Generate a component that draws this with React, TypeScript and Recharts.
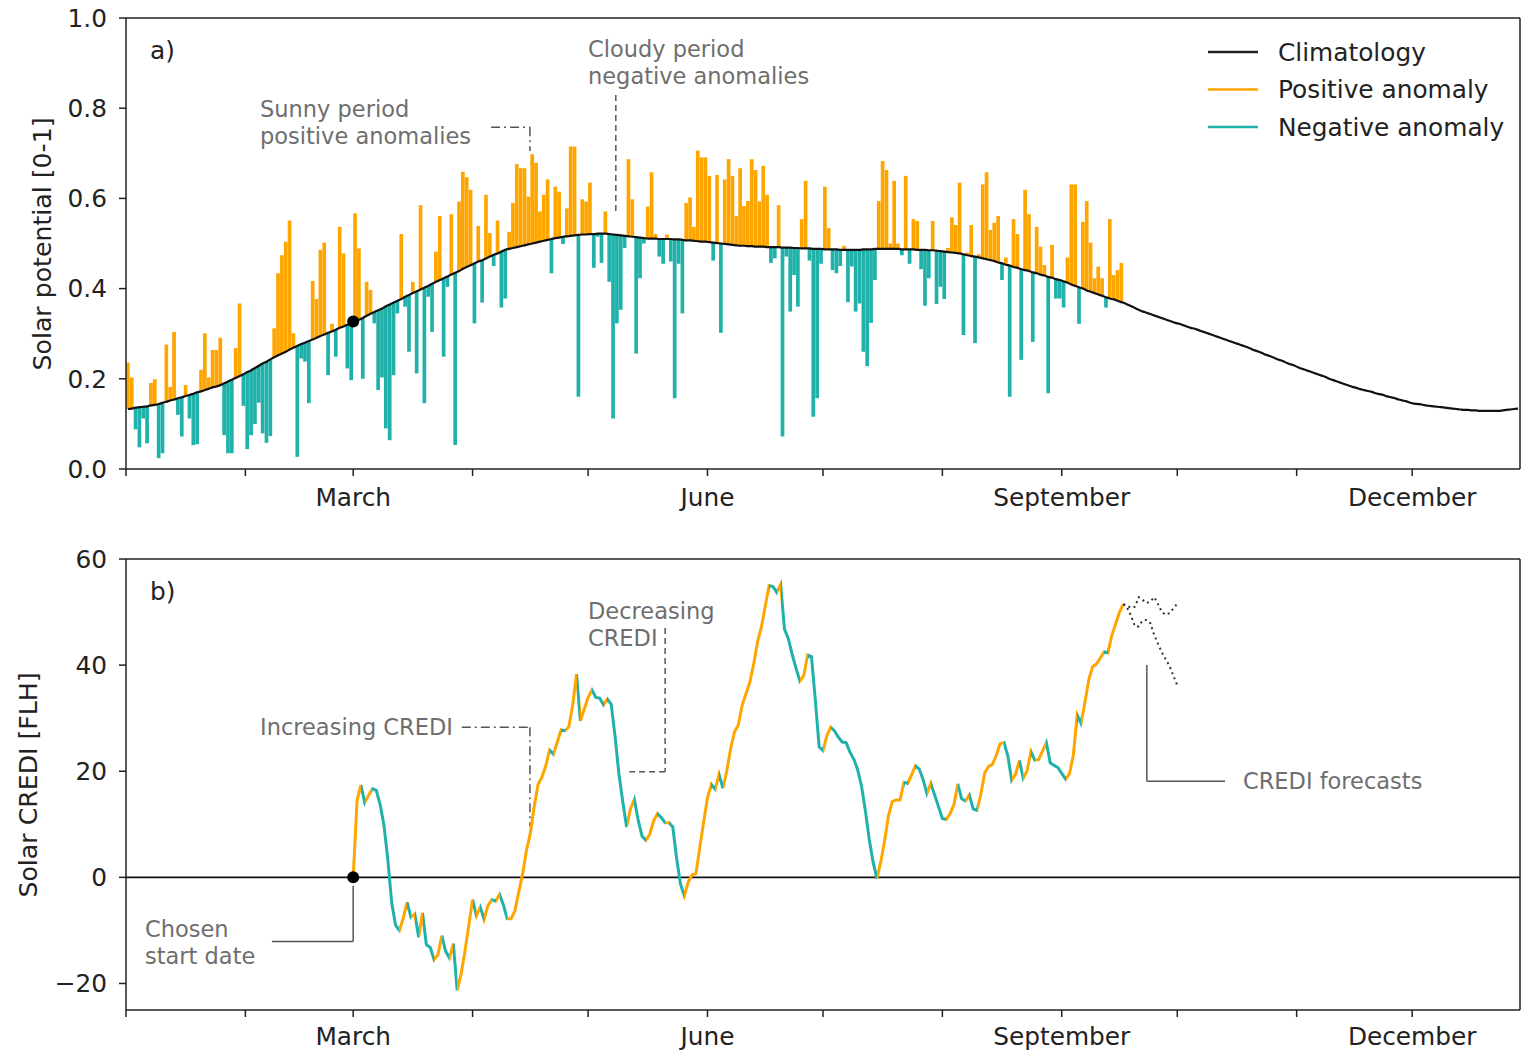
import React from "react";
import {
  ComposedChart,
  Line,
  Bar,
  Cell,
  XAxis,
  YAxis,
  ReferenceLine,
  ReferenceDot,
} from "recharts";

const ORANGE = "#FFA500";
const TEAL = "#20B2AA";
const FONT = "'DejaVu Sans', sans-serif";
const ANNOT = "#6e6e6e";
const CONNECT = "#555";

// first day of each month (day of year, 0 = 1 January)
const monthStarts = [0, 31, 59, 90, 120, 151, 181, 212, 243, 273, 304, 334];
const monthLabels: Record<number, string> = {
  59: "March",
  151: "June",
  243: "September",
  334: "December",
};

// daily climatology of the solar potential, 1 Jan .. 28 Dec
const climatology = [
  0.133, 0.134, 0.136, 0.137, 0.138, 0.139, 0.141, 0.142, 0.144, 0.147,
  0.149, 0.152, 0.154, 0.157, 0.159, 0.162, 0.164, 0.167, 0.170, 0.172,
  0.175, 0.178, 0.181, 0.183, 0.186, 0.190, 0.194, 0.198, 0.202, 0.206,
  0.210, 0.215, 0.219, 0.224, 0.229, 0.234, 0.238, 0.243, 0.248, 0.252,
  0.256, 0.260, 0.265, 0.269, 0.273, 0.277, 0.280, 0.284, 0.287, 0.291,
  0.295, 0.298, 0.302, 0.305, 0.309, 0.313, 0.316, 0.320, 0.323, 0.327,
  0.331, 0.335, 0.340, 0.344, 0.348, 0.352, 0.356, 0.361, 0.365, 0.369,
  0.373, 0.377, 0.382, 0.386, 0.390, 0.394, 0.398, 0.402, 0.406, 0.411,
  0.415, 0.419, 0.423, 0.427, 0.431, 0.435, 0.439, 0.444, 0.448, 0.452,
  0.456, 0.460, 0.463, 0.467, 0.471, 0.475, 0.478, 0.482, 0.486, 0.488,
  0.490, 0.492, 0.494, 0.496, 0.498, 0.500, 0.502, 0.504, 0.506, 0.508,
  0.510, 0.512, 0.513, 0.515, 0.516, 0.517, 0.518, 0.519, 0.520, 0.520,
  0.521, 0.521, 0.522, 0.522, 0.522, 0.521, 0.520, 0.519, 0.518, 0.517,
  0.516, 0.515, 0.514, 0.513, 0.512, 0.511, 0.511, 0.511, 0.510, 0.510,
  0.510, 0.510, 0.509, 0.509, 0.508, 0.507, 0.507, 0.506, 0.505, 0.504,
  0.504, 0.503, 0.502, 0.501, 0.500, 0.499, 0.498, 0.497, 0.496, 0.495,
  0.495, 0.494, 0.494, 0.493, 0.493, 0.493, 0.492, 0.492, 0.492, 0.492,
  0.491, 0.491, 0.491, 0.490, 0.490, 0.489, 0.489, 0.489, 0.488, 0.488,
  0.488, 0.487, 0.487, 0.487, 0.487, 0.486, 0.486, 0.486, 0.486, 0.486,
  0.486, 0.487, 0.487, 0.487, 0.488, 0.488, 0.488, 0.488, 0.488, 0.488,
  0.488, 0.487, 0.487, 0.487, 0.487, 0.486, 0.486, 0.486, 0.485, 0.485,
  0.484, 0.483, 0.482, 0.481, 0.480, 0.479, 0.478, 0.476, 0.474, 0.472,
  0.471, 0.469, 0.467, 0.465, 0.463, 0.461, 0.458, 0.456, 0.453, 0.451,
  0.448, 0.446, 0.443, 0.441, 0.439, 0.436, 0.434, 0.431, 0.429, 0.426,
  0.424, 0.421, 0.419, 0.416, 0.413, 0.409, 0.406, 0.403, 0.400, 0.396,
  0.393, 0.390, 0.387, 0.384, 0.381, 0.378, 0.376, 0.373, 0.370, 0.367,
  0.363, 0.359, 0.355, 0.351, 0.348, 0.345, 0.342, 0.339, 0.336, 0.333,
  0.330, 0.327, 0.324, 0.322, 0.319, 0.316, 0.313, 0.311, 0.308, 0.305,
  0.302, 0.299, 0.296, 0.293, 0.290, 0.287, 0.284, 0.281, 0.278, 0.275,
  0.272, 0.269, 0.265, 0.262, 0.259, 0.255, 0.252, 0.249, 0.245, 0.242,
  0.239, 0.235, 0.232, 0.229, 0.225, 0.222, 0.219, 0.216, 0.213, 0.210,
  0.207, 0.204, 0.200, 0.197, 0.194, 0.191, 0.188, 0.185, 0.182, 0.180,
  0.177, 0.175, 0.173, 0.171, 0.168, 0.166, 0.164, 0.161, 0.159, 0.157,
  0.154, 0.152, 0.150, 0.147, 0.145, 0.144, 0.143, 0.141, 0.140, 0.139,
  0.138, 0.137, 0.136, 0.135, 0.134, 0.133, 0.132, 0.131, 0.131, 0.130,
  0.130, 0.129, 0.129, 0.129, 0.129, 0.129, 0.129, 0.130, 0.131, 0.132,
  0.133, 0.134,
];

// observed daily solar potential, 1 Jan .. mid September
const solarPotential = [
  0.236, 0.203, 0.088, 0.048, 0.112, 0.057, 0.191, 0.199, 0.024, 0.035,
  0.276, 0.182, 0.304, 0.120, 0.072, 0.186, 0.112, 0.053, 0.055, 0.220,
  0.301, 0.203, 0.264, 0.264, 0.291, 0.075, 0.035, 0.035, 0.268, 0.367,
  0.140, 0.044, 0.075, 0.100, 0.147, 0.079, 0.058, 0.073, 0.312, 0.434,
  0.474, 0.504, 0.551, 0.301, 0.027, 0.245, 0.238, 0.146, 0.417, 0.377,
  0.486, 0.502, 0.208, 0.322, 0.249, 0.537, 0.478, 0.223, 0.197, 0.567,
  0.489, 0.200, 0.415, 0.397, 0.323, 0.175, 0.203, 0.090, 0.064, 0.208,
  0.345, 0.521, 0.360, 0.260, 0.415, 0.212, 0.585, 0.146, 0.382, 0.304,
  0.482, 0.561, 0.249, 0.404, 0.565, 0.053, 0.593, 0.659, 0.647, 0.619,
  0.323, 0.539, 0.369, 0.608, 0.523, 0.450, 0.551, 0.358, 0.378, 0.526,
  0.590, 0.676, 0.667, 0.667, 0.604, 0.698, 0.679, 0.571, 0.608, 0.642,
  0.434, 0.626, 0.615, 0.499, 0.578, 0.715, 0.715, 0.160, 0.598, 0.593,
  0.635, 0.446, 0.515, 0.457, 0.571, 0.415, 0.112, 0.323, 0.353, 0.490,
  0.687, 0.598, 0.256, 0.423, 0.500, 0.582, 0.658, 0.521, 0.471, 0.455,
  0.520, 0.460, 0.157, 0.455, 0.345, 0.590, 0.602, 0.537, 0.706, 0.691,
  0.691, 0.650, 0.462, 0.652, 0.302, 0.642, 0.687, 0.650, 0.561, 0.667,
  0.583, 0.594, 0.687, 0.663, 0.593, 0.672, 0.608, 0.457, 0.467, 0.585,
  0.072, 0.471, 0.349, 0.430, 0.360, 0.554, 0.639, 0.462, 0.116, 0.157,
  0.455, 0.626, 0.534, 0.441, 0.434, 0.450, 0.495, 0.370, 0.449, 0.349,
  0.367, 0.260, 0.228, 0.324, 0.419, 0.594, 0.683, 0.663, 0.500, 0.639,
  0.500, 0.474, 0.650, 0.455, 0.554, 0.550, 0.443, 0.362, 0.423, 0.550,
  0.366, 0.404, 0.377, 0.490, 0.558, 0.541, 0.635, 0.297, 0.480, 0.541,
  0.279, 0.476, 0.631, 0.658, 0.530, 0.546, 0.561, 0.419, 0.469, 0.160,
  0.554, 0.521, 0.242, 0.619, 0.565, 0.282, 0.537, 0.493, 0.452, 0.168,
  0.497, 0.378, 0.378, 0.358, 0.469, 0.631, 0.631, 0.322, 0.548, 0.594,
  0.502, 0.423, 0.449, 0.423, 0.358, 0.554, 0.430, 0.441, 0.457,
];

// solar CREDI [FLH], daily from the chosen start date (1 March)
const crediStartDay = 59;
const crediValues = [
  0, 14.5, 17.4, 14.1, 15.5, 16.7, 16.4, 13.7, 9.8, 3.3,
  -4.8, -9.0, -10.0, -7.7, -4.7, -7.5, -6.9, -11.3, -6.7, -12.7,
  -13.2, -15.5, -14.6, -11.0, -13.9, -15.2, -12.5, -21.3, -18.3, -14.0,
  -9.1, -4.2, -7.2, -5.6, -7.9, -5.3, -4.2, -4.5, -3.2, -5.2,
  -7.8, -7.8, -6.3, -2.7, 0.6, 5.1, 8.3, 13.3, 17.5, 18.9,
  21.0, 24.0, 23.2, 25.5, 27.8, 27.6, 28.4, 32.5, 38.3, 29.5,
  31.7, 33.9, 35.3, 33.9, 33.8, 32.5, 33.6, 32.6, 26.6, 19.5,
  14.3, 9.5, 12.9, 14.7, 10.8, 7.8, 7.0, 8.1, 10.6, 12.0,
  11.3, 10.3, 10.3, 9.5, 3.5, -1.3, -3.5, -0.9, 0.5, 0.7,
  5.6, 10.4, 15.0, 17.5, 16.6, 19.4, 16.8, 20.0, 24.2, 27.4,
  28.7, 32.4, 34.6, 36.8, 40.2, 44.4, 47.2, 51.1, 55.0, 54.8,
  53.7, 55.2, 46.8, 45.0, 42.0, 39.4, 37.0, 38.0, 41.9, 41.6,
  33.5, 24.6, 23.9, 26.7, 28.3, 27.6, 26.4, 25.5, 25.4, 23.6,
  22.3, 20.3, 17.2, 12.6, 7.2, 2.9, -0.2, 2.9, 6.9, 11.6,
  14.3, 14.6, 14.6, 17.9, 17.7, 19.3, 21.0, 20.4, 18.4, 15.8,
  17.7, 15.5, 13.3, 11.1, 10.9, 12.0, 13.7, 17.6, 14.8, 14.4,
  15.5, 12.9, 12.6, 15.7, 19.7, 20.9, 21.3, 23.0, 25.2, 25.4,
  22.9, 18.3, 19.4, 22.0, 18.7, 20.1, 23.7, 22.1, 22.2, 23.8,
  25.4, 21.6, 21.1, 20.7, 19.6, 18.5, 19.5, 23.0, 30.6, 29.0,
  32.9, 37.2, 39.7, 40.2, 41.3, 42.5, 42.3, 45.6, 47.8, 50.0,
  51.5,
];

// CREDI forecasts, daily from the last observed day
const forecastStartDay = 259;
const forecastUpper = [51.5, 51.2, 50.8, 51.0, 52.8, 52.3, 51.7, 52.0, 52.8, 51.5, 50.0, 49.5, 49.8, 50.7, 51.6];
const forecastLower = [51.5, 50.8, 49.3, 47.3, 47.3, 48.4, 48.5, 47.9, 45.7, 44.0, 42.4, 41.1, 39.8, 38.0, 36.2];

const potentialTicks = [0, 0.2, 0.4, 0.6, 0.8, 1.0];
const crediTicks = [-20, 0, 20, 40, 60];

const legendItems = [
  { label: "Climatology", color: "#222" },
  { label: "Positive anomaly", color: ORANGE },
  { label: "Negative anomaly", color: TEAL },
];

// annotation connectors, in data units
const sunnyLink = [
  { x: 94.8, y: 0.758 },
  { x: 104.9, y: 0.758 },
  { x: 104.9, y: 0.705 },
];
const cloudyLink = [
  { x: 127.2, y: 0.829 },
  { x: 127.2, y: 0.57 },
];
const increasingLink = [
  { x: 87.2, y: 28.3 },
  { x: 104.9, y: 28.3 },
  { x: 104.9, y: 9.6 },
];
const decreasingLink = [
  { x: 140.0, y: 47.0 },
  { x: 140.0, y: 19.9 },
  { x: 130.7, y: 19.9 },
];
const forecastLink = [
  { x: 285.4, y: 18.1 },
  { x: 265.1, y: 18.1 },
  { x: 265.1, y: 40.0 },
];
const startLink = [
  { x: 37.9, y: -12.1 },
  { x: 59, y: -12.1 },
  { x: 59, y: -1.6 },
];

const topData = climatology.map((c, d) => {
  const v = solarPotential[d];
  return {
    day: d + 0.5,
    clim: c,
    range: v === undefined ? null : [Math.min(v, c), Math.max(v, c)],
    positive: v !== undefined && v >= c,
  };
});

const crediData = crediValues.map((v, i) => ({ day: crediStartDay + i, credi: v }));
const upperData = forecastUpper.map((v, i) => ({ day: forecastStartDay + i, fc: v }));
const lowerData = forecastLower.map((v, i) => ({ day: forecastStartDay + i, fc: v }));

const LABEL_SIZE = 24.8;
const tickStyle = { fill: "#222", fontSize: LABEL_SIZE, fontFamily: FONT };
const axisStroke = { stroke: "#222", strokeWidth: 1.5 };

function links(points: { x: number; y: number }[], dash: string | undefined, key: string) {
  const out = [];
  for (let i = 0; i < points.length - 1; i++) {
    out.push(
      <ReferenceLine
        key={`${key}-${i}`}
        segment={[points[i], points[i + 1]]}
        stroke={CONNECT}
        strokeWidth={1.5}
        strokeDasharray={dash}
      />
    );
  }
  return out;
}

function xAxisFor(height: number, margin: number) {
  return (
    <XAxis
      dataKey="day"
      type="number"
      domain={[0, 362]}
      ticks={monthStarts}
      interval={0}
      height={height}
      tickFormatter={(d: number) => monthLabels[d] ?? ""}
      tickSize={7}
      tickMargin={margin}
      axisLine={axisStroke}
      tickLine={axisStroke}
      tick={tickStyle}
      allowDataOverflow
    />
  );
}

function CrediGradient() {
  const n = crediValues.length;
  const stops = [];
  for (let i = 0; i < n - 1; i++) {
    const color = crediValues[i + 1] >= crediValues[i] ? ORANGE : TEAL;
    stops.push(<stop key={`a${i}`} offset={i / (n - 1)} stopColor={color} />);
    stops.push(<stop key={`b${i}`} offset={(i + 1) / (n - 1)} stopColor={color} />);
  }
  return (
    <linearGradient id="crediGrad" x1="0" y1="0" x2="1" y2="0">
      {stops}
    </linearGradient>
  );
}

function Overlay() {
  const t = { fontFamily: FONT, fontSize: 22.5, fill: ANNOT };
  return (
    <svg
      width={1521}
      height={1052}
      style={{ position: "absolute", left: 0, top: 0, pointerEvents: "none" }}
    >
      <text x={150} y={59} fontFamily={FONT} fontSize={LABEL_SIZE} fill="#222">a)</text>
      <text x={150} y={600} fontFamily={FONT} fontSize={LABEL_SIZE} fill="#222">b)</text>

      <text {...t} x={588} y={57}>Cloudy period</text>
      <text {...t} x={588} y={84}>negative anomalies</text>
      <text {...t} x={260} y={117}>Sunny period</text>
      <text {...t} x={260} y={144}>positive anomalies</text>

      <text {...t} x={588} y={619}>Decreasing</text>
      <text {...t} x={588} y={646}>CREDI</text>
      <text {...t} x={260} y={735}>Increasing CREDI</text>
      <text {...t} x={1243} y={789}>CREDI forecasts</text>
      <text {...t} x={145} y={937}>Chosen</text>
      <text {...t} x={145} y={964}>start date</text>

      <text
        x={51}
        y={244}
        transform="rotate(-90 51 244)"
        textAnchor="middle"
        fontFamily={FONT}
        fontSize={25.2}
        fill="#222"
      >
        Solar potential [0-1]
      </text>
      <text
        x={37}
        y={785}
        transform="rotate(-90 37 785)"
        textAnchor="middle"
        fontFamily={FONT}
        fontSize={25.2}
        fill="#222"
      >
        Solar CREDI [FLH]
      </text>

      {legendItems.map((item, i) => (
        <g key={item.label}>
          <line
            x1={1208}
            x2={1258}
            y1={52 + i * 37.5}
            y2={52 + i * 37.5}
            stroke={item.color}
            strokeWidth={2.5}
          />
          <text x={1278} y={60.5 + i * 37.5} fontFamily={FONT} fontSize={LABEL_SIZE} fill="#222">
            {item.label}
          </text>
        </g>
      ))}
    </svg>
  );
}

export default function App() {
  return (
    <div
      style={{
        position: "absolute",
        left: 0,
        top: 0,
        width: 1521,
        height: 1052,
        background: "#fff",
      }}
    >
      <div style={{ position: "absolute", left: 0, top: 0 }}>
        <ComposedChart
          width={1521}
          height={530}
          data={topData}
          margin={{ top: 18, right: 1, left: 0, bottom: 0 }}
        >
          {xAxisFor(61, 12)}
          <YAxis
            type="number"
            domain={[0, 1]}
            ticks={potentialTicks}
            tickFormatter={(v: number) => v.toFixed(1)}
            width={126}
            tickSize={7}
            tickMargin={12}
            axisLine={axisStroke}
            tickLine={axisStroke}
            tick={tickStyle}
          />
          <ReferenceLine y={1} stroke="#222" strokeWidth={1.5} />
          <ReferenceLine x={362} stroke="#222" strokeWidth={1.5} />
          <Bar dataKey="range" barSize={3.7} isAnimationActive={false}>
            {topData.map((row, i) => (
              <Cell key={`c${i}`} fill={row.positive ? ORANGE : TEAL} />
            ))}
          </Bar>
          <Line
            dataKey="clim"
            type="monotone"
            stroke="#111"
            strokeWidth={2.2}
            dot={false}
            isAnimationActive={false}
          />
          {links(sunnyLink, "9 4 2 4", "sunny")}
          {links(cloudyLink, "6 4", "cloudy")}
          <ReferenceDot x={crediStartDay} y={climatology[crediStartDay]} r={6} fill="#000" stroke="none" />
        </ComposedChart>
      </div>

      <div style={{ position: "absolute", left: 0, top: 530 }}>
        <ComposedChart
          width={1521}
          height={522}
          margin={{ top: 29, right: 1, left: 0, bottom: 0 }}
        >
          <defs>
            <CrediGradient />
          </defs>
          {xAxisFor(42, 10)}
          <YAxis
            type="number"
            domain={[-25, 60]}
            ticks={crediTicks}
            tickFormatter={(v: number) => (v < 0 ? `\u2212${Math.abs(v)}` : `${v}`)}
            width={126}
            tickSize={7}
            tickMargin={12}
            axisLine={axisStroke}
            tickLine={axisStroke}
            tick={tickStyle}
          />
          <ReferenceLine y={60} stroke="#222" strokeWidth={1.5} />
          <ReferenceLine x={362} stroke="#222" strokeWidth={1.5} />
          <ReferenceLine y={0} stroke="#111" strokeWidth={1.6} />
          {links(increasingLink, "9 4 2 4", "inc")}
          {links(decreasingLink, "6 4", "dec")}
          {links(forecastLink, undefined, "fc")}
          {links(startLink, undefined, "start")}
          <Line
            data={crediData}
            dataKey="credi"
            type="linear"
            stroke="url(#crediGrad)"
            strokeWidth={3}
            dot={false}
            isAnimationActive={false}
          />
          <Line
            data={upperData}
            dataKey="fc"
            type="linear"
            stroke="#333"
            strokeWidth={2}
            strokeDasharray="2 3.5"
            dot={false}
            isAnimationActive={false}
          />
          <Line
            data={lowerData}
            dataKey="fc"
            type="linear"
            stroke="#333"
            strokeWidth={2}
            strokeDasharray="2 3.5"
            dot={false}
            isAnimationActive={false}
          />
          <ReferenceDot x={crediStartDay} y={0} r={6} fill="#000" stroke="none" />
        </ComposedChart>
      </div>

      <Overlay />
    </div>
  );
}
